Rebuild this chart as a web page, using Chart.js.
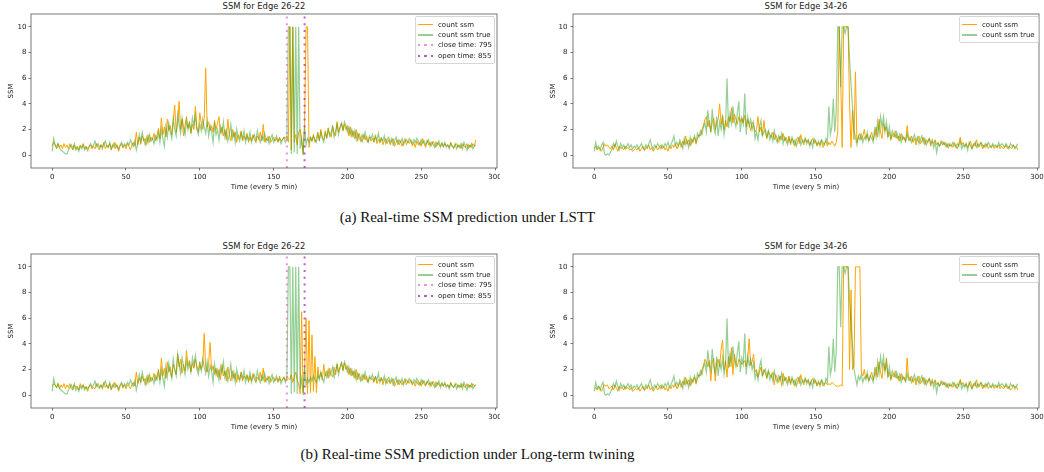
<!DOCTYPE html>
<html>
<head>
<meta charset="utf-8">
<script src="https://cdn.jsdelivr.net/npm/chart.js@4.4.0/dist/chart.umd.min.js"></script>
<style>
body{margin:0;background:#fff;}
#fig{position:relative;width:1044px;height:472px;overflow:hidden;background:#fff;font-family:"DejaVu Sans";}
canvas{position:absolute;}
.ttl{position:absolute;height:13px;line-height:13px;font-size:8.4px;text-align:center;color:#222;white-space:nowrap;}
.cap{position:absolute;left:0;width:935px;text-align:center;font-family:"Liberation Serif";font-size:15px;color:#111;line-height:18px;}
.leg{position:absolute;background:rgba(255,255,255,0.8);border:1px solid #d6d6d6;border-radius:2px;font-size:7px;color:#222;}
.sw{position:absolute;width:15px;}
.lt{position:absolute;line-height:10px;white-space:nowrap;}
</style>
</head>
<body>
<div id="fig">
  <div class="ttl" style="left:31px;width:466px;top:0px">SSM for Edge 26-22</div>
  <div class="ttl" style="left:573px;width:466px;top:0px">SSM for Edge 34-26</div>
  <div class="ttl" style="left:31px;width:466px;top:240px">SSM for Edge 26-22</div>
  <div class="ttl" style="left:573px;width:466px;top:240px">SSM for Edge 34-26</div>
  <canvas id="c1" width="500" height="195" style="left:0;top:0"></canvas>
  <canvas id="c2" width="504" height="195" style="left:540px;top:0"></canvas>
  <canvas id="c3" width="500" height="195" style="left:0;top:240px"></canvas>
  <canvas id="c4" width="504" height="195" style="left:540px;top:240px"></canvas>
  <div class="cap" style="top:208px">(a) Real-time SSM prediction under LSTT</div>
  <div class="cap" style="top:445px">(b) Real-time SSM prediction under Long-term twining</div>
</div>
<script>
// time steps 0..287 (every 5 min)
var true2622 = [
0.3,1.3,0.8,0.6,0.9,0.5,0.4,0.3,0.2,0.1,0.1,0.4,
0.6,0.8,0.5,0.9,0.4,0.6,0.3,0.7,0.5,0.8,0.4,0.6,
0.5,0.7,0.9,0.6,0.8,1.1,0.7,0.9,0.6,0.8,0.5,0.9,
1.1,0.7,0.6,1.0,0.5,0.8,0.6,0.9,0.7,0.5,0.8,1.0,
0.6,0.9,0.7,1.0,0.8,1.2,0.9,0.7,1.1,0.4,0.9,1.6,
1.0,1.8,1.2,0.8,1.4,1.0,1.6,1.1,1.3,0.9,1.5,1.2,
1.8,1.0,2.0,1.3,0.7,2.2,1.4,2.5,1.8,1.3,2.8,2.0,
1.5,3.2,2.4,1.7,2.9,2.2,1.6,2.7,2.0,2.5,1.8,2.9,
2.3,3.1,2.0,1.6,2.4,1.9,2.8,2.2,1.7,2.6,1.5,2.3,
1.9,1.0,2.4,1.6,2.0,1.2,2.2,1.7,2.6,1.4,1.9,1.1,
1.6,2.4,1.3,1.8,1.0,2.0,1.4,1.1,1.7,1.3,1.9,1.0,
1.5,1.2,1.8,1.0,1.4,1.6,1.1,1.9,1.3,1.0,1.5,1.2,
1.7,1.1,1.4,0.9,1.3,1.6,1.0,1.2,1.5,1.1,1.3,0.9,
1.2,1.4,1.0,1.3,10,10,0.1,10,0.2,10,0.1,10,
0.5,1.3,0.0,2.2,0.8,1.3,1.0,1.4,1.1,1.5,1.2,1.0,
1.6,1.2,1.8,1.3,1.0,1.7,1.4,2.0,1.5,1.8,2.2,1.4,
1.9,2.4,1.6,2.1,2.5,2.0,2.6,2.3,1.8,2.2,1.6,2.0,
1.5,1.9,1.2,1.7,1.4,1.1,1.6,1.3,1.8,1.2,1.0,1.5,
1.3,1.6,1.1,1.4,1.2,1.7,1.0,1.3,1.1,1.5,0.9,1.2,
1.4,1.0,1.3,0.8,1.1,1.4,0.9,1.2,1.0,1.3,0.8,1.1,
1.2,1.0,1.3,1.1,0.9,1.2,1.0,1.3,1.1,0.8,1.2,0.9,
1.1,0.8,1.0,1.2,0.7,1.0,0.9,0.6,1.0,0.8,1.1,0.6,
0.9,0.7,1.0,0.6,0.8,0.5,0.9,0.7,0.6,0.9,0.5,0.8,
0.6,0.9,0.5,1.0,0.7,0.4,0.8,0.6,0.9,0.5,0.7,0.8];

var pred2622a = [
0.7,1.0,0.8,0.5,0.9,0.6,0.8,0.5,0.9,0.6,0.8,0.5,
0.9,0.6,0.4,0.8,0.5,0.7,0.4,0.8,0.6,0.9,0.5,0.7,
0.3,0.6,0.8,0.5,0.7,0.5,0.9,0.6,0.4,0.8,0.6,1.0,
0.5,0.8,0.6,0.9,0.4,0.7,1.0,0.5,0.8,0.3,0.7,0.9,
0.6,0.8,0.5,0.9,0.7,0.4,0.8,1.0,0.7,1.8,0.8,1.4,
0.9,1.5,1.1,1.3,0.8,1.6,1.0,1.4,1.2,1.7,1.1,1.5,
2.1,1.3,2.9,1.6,2.2,1.4,2.8,1.9,2.3,1.6,2.6,3.9,
1.8,2.5,4.2,2.0,2.8,1.5,2.3,3.0,2.1,2.6,1.7,2.4,
2.0,3.8,2.2,1.8,3.3,2.5,2.0,2.9,6.8,2.2,2.6,1.9,
2.3,1.8,2.7,2.0,2.5,3.0,1.7,2.2,1.5,2.0,1.2,2.8,
1.6,1.1,2.0,1.4,1.8,1.0,1.6,1.3,1.9,1.1,1.5,1.2,
1.7,1.0,1.4,1.1,1.6,1.2,1.0,1.5,1.2,1.8,1.1,2.4,
1.0,1.3,1.1,1.5,1.0,1.2,1.4,1.1,1.3,1.0,1.4,1.1,
1.2,1.4,1.3,1.5,1.0,10,0.4,10,1.0,1.6,0.8,1.8,
2.0,1.2,0.1,2.4,10,10,0.6,1.4,1.1,1.6,1.0,1.3,
1.8,1.1,2.0,1.4,1.2,1.9,1.3,2.1,1.6,1.4,2.3,1.7,
1.5,2.6,1.8,2.2,2.5,1.9,2.4,2.0,2.3,1.5,2.2,1.4,
1.9,1.3,2.0,1.1,1.7,1.3,1.0,1.6,1.2,1.5,1.0,1.4,
1.1,1.3,1.0,1.6,0.9,1.2,1.0,1.4,0.8,1.1,1.3,0.9,
1.2,0.8,1.1,1.3,0.7,1.0,1.2,0.8,1.1,0.7,1.0,1.3,
0.8,1.1,0.9,1.2,0.7,1.0,0.6,1.1,0.8,1.0,0.7,1.3,
0.9,0.6,1.2,0.8,1.0,0.7,1.1,0.9,0.6,1.0,0.8,0.7,
1.0,0.6,0.9,0.7,0.8,0.6,1.0,0.7,0.5,0.8,0.9,0.6,
0.8,0.5,0.9,0.7,0.6,0.9,0.5,0.8,0.6,0.9,0.7,1.2];

var pred2622b = [
0.7,0.9,0.8,0.6,0.9,0.5,0.8,0.6,0.9,0.5,0.8,0.6,
0.9,0.5,0.4,0.8,0.6,0.7,0.4,0.9,0.6,0.8,0.5,0.7,
0.3,0.7,0.8,0.5,0.6,0.5,0.9,0.6,0.5,0.8,0.6,1.0,
0.6,0.8,0.5,0.9,0.4,0.7,1.0,0.6,0.8,0.3,0.7,0.9,
0.6,0.8,0.5,0.8,0.7,0.5,0.8,1.0,0.7,1.8,0.9,1.3,
1.0,1.5,1.1,1.3,0.8,1.6,1.0,1.4,1.2,1.7,1.1,1.5,
2.0,1.2,2.9,1.5,2.1,1.3,2.6,1.8,2.2,1.4,2.4,2.0,
1.6,3.2,2.2,2.8,1.7,2.4,1.9,3.5,2.3,2.7,1.8,2.5,
2.1,2.8,2.3,1.9,2.6,2.0,2.4,4.8,2.2,1.8,2.5,4.1,
1.9,2.3,1.6,2.1,1.4,2.0,1.2,2.4,1.5,1.9,1.1,2.2,
1.5,1.1,1.9,1.3,1.7,1.0,1.6,1.2,1.8,1.1,1.5,1.3,
1.6,1.0,1.5,1.1,1.7,1.2,1.0,1.4,1.2,1.8,1.1,2.1,
1.0,1.3,1.2,1.5,1.0,1.3,1.4,1.1,1.3,1.0,1.5,1.1,
1.2,1.4,1.1,1.5,1.3,1.2,1.6,1.0,1.4,1.8,1.2,0.8,
0.1,6.5,0.2,2.0,6.0,0.1,5.8,0.2,4.7,0.3,3.0,0.2,
2.2,1.3,1.8,1.2,2.4,1.5,1.9,1.3,2.1,1.6,1.4,2.2,
1.6,2.4,1.8,2.2,2.6,1.9,2.5,2.0,2.3,1.6,2.1,1.5,
1.9,1.3,2.0,1.2,1.7,1.3,1.1,1.6,1.2,1.5,1.0,1.4,
1.2,1.3,1.0,1.5,0.9,1.2,1.1,1.4,0.8,1.2,1.3,0.9,
1.2,0.9,1.1,1.3,0.7,1.0,1.2,0.8,1.1,0.8,1.0,1.3,
0.8,1.1,0.9,1.2,0.8,1.0,0.7,1.1,0.8,1.0,0.7,1.2,
0.9,0.7,1.1,0.8,1.0,0.7,1.1,0.9,0.6,1.0,0.8,0.7,
1.0,0.7,0.9,0.7,0.8,0.6,1.0,0.7,0.6,0.8,0.9,0.6,
0.8,0.6,0.9,0.7,0.6,0.9,0.6,0.8,0.6,0.9,0.7,0.8];

var true3426 = [
0.3,1.0,0.5,0.7,0.4,0.8,1.0,0.1,0.0,0.1,0.0,0.2,
0.5,0.9,0.6,1.1,0.7,0.4,0.9,0.6,0.8,0.5,0.7,0.9,
0.6,0.8,0.5,0.7,0.6,0.8,0.5,0.7,0.9,0.6,0.4,0.8,
0.6,0.9,1.2,0.7,0.5,0.8,0.6,0.9,0.7,0.5,0.8,0.6,
0.9,0.7,1.0,0.6,0.8,1.1,1.5,0.8,1.0,0.7,1.2,0.9,
0.5,1.3,0.8,1.1,0.6,1.4,0.9,1.2,1.5,1.0,1.7,1.4,
1.9,1.6,2.2,2.5,1.8,3.5,2.4,1.9,3.6,2.2,1.7,3.0,
1.5,2.6,2.0,2.9,1.6,2.4,6.0,2.1,3.2,2.5,3.8,2.7,
2.2,3.3,4.2,1.8,2.9,2.4,4.8,1.6,3.0,2.3,2.8,2.0,
2.5,1.3,1.8,1.2,2.2,2.7,1.5,1.8,2.0,1.4,1.9,1.2,
1.6,1.1,1.9,1.3,1.0,1.5,1.2,1.7,0.9,1.4,1.1,0.8,
1.3,1.0,1.4,0.9,1.2,0.7,1.1,1.4,0.8,1.2,1.0,1.3,
0.9,1.2,0.7,1.1,0.6,1.3,1.0,0.8,1.1,0.7,1.2,1.0,
0.8,1.3,1.0,3.8,1.6,2.2,4.4,1.8,3.5,10,10,5.3,
10,10,9.5,10,10,7.5,5.5,3.8,2.0,1.4,0.8,1.5,
1.2,1.6,1.0,1.4,1.2,1.8,1.1,1.5,1.3,1.0,2.0,1.4,
2.6,1.7,3.0,2.2,3.0,1.8,2.6,1.5,2.2,1.3,1.9,1.6,
1.4,1.8,1.2,1.6,1.0,1.5,1.3,1.1,1.7,1.2,1.4,1.0,
1.3,1.6,1.1,1.4,0.9,1.2,1.5,1.0,1.3,0.8,1.1,1.3,
0.9,1.2,0.6,1.0,0.2,0.9,0.7,1.1,0.8,1.0,0.7,0.9,
0.6,0.9,0.7,1.0,0.8,0.6,0.9,0.7,1.1,0.5,0.8,0.6,
0.9,0.4,1.0,0.7,0.5,0.8,1.0,0.6,0.9,0.7,1.0,0.8,
0.6,0.9,0.7,1.0,0.8,0.6,0.9,0.7,0.8,0.6,1.0,0.7,
0.9,0.8,0.6,0.9,0.7,0.5,0.9,0.7,0.8,0.5,0.7,0.9];

var pred3426a = [
0.5,0.7,0.4,0.6,0.5,0.3,0.6,0.9,0.7,0.8,0.6,0.5,
0.7,0.4,0.9,0.6,0.3,0.7,0.5,0.6,0.4,0.7,0.5,0.6,
0.4,0.5,0.3,0.4,0.5,0.4,0.6,0.3,0.5,0.7,0.4,0.6,
0.5,0.8,0.4,0.6,0.3,0.5,0.7,0.4,0.6,0.8,0.5,0.7,
0.4,0.6,0.3,0.7,0.5,0.8,0.6,0.9,0.5,0.7,1.0,0.6,
1.1,0.8,1.5,0.9,1.2,0.7,1.3,1.0,1.4,0.9,1.3,1.6,
1.5,2.0,2.3,2.8,3.0,2.2,2.7,1.8,2.6,2.9,2.0,2.5,
2.8,4.0,2.4,3.1,2.0,2.7,2.2,3.0,2.6,3.7,2.5,3.2,
2.8,2.4,3.0,2.6,2.9,2.5,3.1,2.2,2.8,2.4,1.9,2.6,
2.3,1.8,2.0,3.0,1.8,2.2,1.5,2.7,1.7,1.3,1.9,1.6,
1.4,1.8,1.2,1.6,1.3,1.0,1.5,1.2,1.7,1.1,1.4,1.0,
1.5,0.8,1.3,1.1,0.7,1.2,1.4,0.9,1.6,1.1,0.8,1.3,
1.0,1.2,0.8,1.1,1.3,0.9,1.2,0.7,1.0,0.8,1.2,0.6,
0.9,1.1,0.7,1.0,0.8,1.1,0.9,0.7,1.0,1.8,10,6.0,
0.6,10,10,10,10,4.0,0.6,3.5,1.2,6.5,1.0,1.4,
1.7,1.2,1.5,2.0,1.3,1.6,1.1,1.4,1.8,1.2,1.6,2.2,
1.4,2.8,1.8,1.3,2.5,1.9,2.2,1.4,1.8,1.2,1.6,1.4,
1.9,1.3,1.5,1.1,1.7,1.2,1.4,1.0,2.3,1.3,1.1,1.5,
1.0,1.3,0.8,1.2,1.5,0.9,1.1,1.4,0.8,1.2,1.0,1.3,
0.7,1.1,0.9,1.2,0.8,1.0,0.7,0.9,1.1,0.8,1.0,0.6,
0.9,0.7,0.8,0.6,1.0,0.7,0.5,0.9,1.4,0.8,1.0,0.7,
0.9,0.6,0.8,1.1,0.5,0.9,0.7,1.2,0.6,0.8,1.0,0.5,
0.8,0.6,0.9,0.5,0.7,0.6,0.8,0.5,0.7,0.6,0.8,0.5,
0.7,0.5,0.6,0.8,0.5,0.7,0.6,0.5,0.8,0.6,0.7,0.4];

var pred3426b = [
0.5,0.6,0.4,0.7,0.5,0.3,0.6,0.8,0.7,0.8,0.5,0.6,
0.7,0.4,0.8,0.6,0.3,0.7,0.5,0.6,0.4,0.7,0.5,0.6,
0.4,0.6,0.3,0.4,0.5,0.4,0.6,0.3,0.5,0.7,0.4,0.6,
0.5,0.8,0.4,0.6,0.3,0.5,0.7,0.4,0.6,0.8,0.5,0.7,
0.4,0.6,0.3,0.7,0.5,0.8,0.6,0.9,0.5,0.7,1.0,0.6,
1.1,0.8,1.4,0.9,1.2,0.7,1.3,1.0,1.4,0.9,1.3,1.6,
1.5,2.0,2.3,2.8,2.6,2.2,2.7,1.1,2.6,2.9,1.1,2.5,
2.8,2.2,3.6,4.3,2.0,2.7,1.4,3.0,2.2,3.7,1.6,3.2,
2.5,2.2,2.8,2.6,2.4,2.5,2.7,2.2,2.8,4.4,2.3,2.6,
3.2,1.8,2.0,1.4,1.8,2.2,1.5,2.0,1.7,1.3,1.9,1.6,
1.4,1.8,0.8,1.6,1.3,1.0,1.5,0.7,1.7,1.1,1.4,1.0,
1.5,0.8,1.3,1.1,0.7,1.2,1.4,0.9,1.6,1.1,0.8,1.3,
1.0,1.2,0.8,1.1,1.3,0.9,1.2,0.7,1.0,0.8,1.2,0.7,
0.9,1.0,0.8,0.9,0.8,1.0,0.9,0.8,0.7,0.7,0.7,0.8,
0.7,10,10,10,10,2.0,8.2,2.0,2.3,10,10,10,
10,1.8,1.5,2.0,1.3,1.6,1.1,1.4,1.8,1.2,1.6,2.2,
1.4,2.6,1.8,1.3,2.5,1.9,2.9,1.4,1.8,1.2,1.6,1.4,
1.9,1.3,1.5,1.1,1.7,1.2,1.4,1.0,2.9,1.3,1.1,1.5,
1.0,1.3,0.8,1.2,1.5,0.9,1.1,1.4,0.8,1.2,1.0,1.3,
0.7,1.1,0.9,1.2,0.8,1.0,0.7,0.9,1.1,0.8,1.0,0.6,
0.9,0.7,0.8,0.6,1.0,0.7,0.5,0.9,1.2,0.8,1.0,0.7,
0.9,0.6,0.8,1.1,0.5,0.9,0.7,1.2,0.6,0.8,1.0,0.5,
0.8,0.6,0.9,0.5,0.7,0.6,0.8,0.5,0.7,0.6,0.8,0.5,
0.7,0.5,0.6,0.8,0.5,0.7,0.4,0.5,0.8,0.6,0.7,0.4];

// closure marks for edge 26-22 (minutes of day)
var markTimes = [795, 855];
var markLabels = ['close time: 795', 'open time: 855'];
var markColors = ['rgba(230,125,195,0.8)', 'rgba(170,55,190,0.8)'];

// tick labels
var xTicks = [0, 50, 100, 150, 200, 250, 300];
var yTicks = [0, 2, 4, 6, 8, 10];

var ORANGE = '#ffa500';
var GREEN = 'rgba(44,160,44,0.5)';

[true2622, pred2622a, pred2622b, true3426, pred3426a, pred3426b].forEach(function (a, i) {
  if (a.length != 288) throw new Error('series ' + i + ' has ' + a.length + ' values');
});

Chart.defaults.font.family = 'DejaVu Sans';
Chart.defaults.font.size = 7;
Chart.defaults.color = '#222';

var fig = document.getElementById('fig');

function pts(arr) {
  return arr.map(function (v, i) { return {x: i, y: v}; });
}

var frame = {
  id: 'frame',
  afterDraw: function (c) {
    var a = c.chartArea, ctx = c.ctx;
    ctx.save();
    ctx.strokeStyle = '#555';
    ctx.lineWidth = 0.8;
    ctx.strokeRect(a.left, a.top, a.right - a.left, a.bottom - a.top);
    ctx.restore();
  }
};

function legend(left, top, sets) {
  var box = document.createElement('div');
  box.className = 'leg';
  box.style.left = left + 'px';
  box.style.top = top + 'px';
  box.style.width = '78px';
  box.style.height = (sets.length * 10.4 + 4) + 'px';
  sets.forEach(function (d, i) {
    var cy = 7.5 + i * 10.4;
    var sw = document.createElement('div');
    sw.className = 'sw';
    sw.style.left = '2px';
    if (d.borderDash) {
      sw.style.height = '2px';
      sw.style.top = (cy - 1) + 'px';
      sw.style.background = 'repeating-linear-gradient(90deg,' + d.borderColor + ' 0 2px, transparent 2px 6.5px)';
    } else {
      sw.style.height = '1.5px';
      sw.style.top = (cy - 0.75) + 'px';
      sw.style.background = d.borderColor;
    }
    var t = document.createElement('div');
    t.className = 'lt';
    t.textContent = d.label;
    t.style.left = '22px';
    t.style.top = (cy - 5) + 'px';
    box.appendChild(sw);
    box.appendChild(t);
  });
  fig.appendChild(box);
}

function fixedTicks(list) {
  return function (s) { s.ticks = list.map(function (v) { return {value: v}; }); };
}

function panel(id, truth, pred, withMarks, axisW, titlePad, tickPad, rightPad, legLeft, legTop) {
  var ds = [
    {label: 'count ssm', data: pts(pred), borderColor: ORANGE, borderWidth: 1, order: 2},
    {label: 'count ssm true', data: pts(truth), borderColor: GREEN, borderWidth: 1.2, order: 1}
  ];
  if (withMarks) {
    markTimes.forEach(function (t, i) {
      ds.push({label: markLabels[i], data: [{x: t / 5, y: -1}, {x: t / 5, y: 11}],
        borderColor: markColors[i], borderWidth: 2, borderDash: [2, 4.8], order: 0});
    });
  }
  new Chart(document.getElementById(id), {
    type: 'line',
    data: {datasets: ds},
    options: {
      responsive: false,
      animation: false,
      layout: {padding: {left: 0, right: rightPad, top: 14, bottom: 0}},
      elements: {point: {radius: 0}, line: {tension: 0}},
      plugins: {legend: {display: false}, tooltip: {enabled: false}},
      scales: {
        x: {
          type: 'linear', min: -14.35, max: 301.35,
          border: {display: false},
          grid: {drawOnChartArea: false, drawTicks: true, tickLength: 2.5, color: '#555', lineWidth: 0.8},
          ticks: {padding: 2, maxRotation: 0},
          afterBuildTicks: fixedTicks(xTicks),
          title: {display: true, text: 'Time (every 5 min)', padding: {top: 0, bottom: 4}},
          afterFit: function (s) { s.height = 27; s.paddingLeft = 0; s.paddingRight = 0; }
        },
        y: {
          min: -1, max: 11,
          border: {display: false},
          grid: {drawOnChartArea: false, drawTicks: true, tickLength: 2.5, color: '#555', lineWidth: 0.8},
          ticks: {padding: tickPad},
          afterBuildTicks: fixedTicks(yTicks),
          title: {display: true, text: 'SSM', padding: {top: titlePad, bottom: 0}},
          afterFit: function (s) { s.width = axisW; s.paddingTop = 0; s.paddingBottom = 0; }
        }
      }
    },
    plugins: [frame]
  });
  legend(legLeft, legTop, ds);
}

panel('c1', true2622, pred2622a, true, 31, 7, 2, 3, 415, 16);
panel('c2', true3426, pred3426a, false, 33, 8.5, 3, 5, 959, 16);
panel('c3', true2622, pred2622b, true, 31, 7, 2, 3, 415, 256);
panel('c4', true3426, pred3426b, false, 33, 8.5, 3, 5, 959, 256);
</script>
</body>
</html>
